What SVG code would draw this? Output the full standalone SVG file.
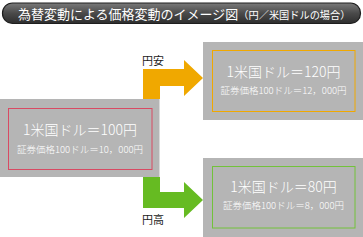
<svg xmlns="http://www.w3.org/2000/svg" width="363" height="237" viewBox="0 0 363 237">
<defs>
<linearGradient id="tg" x1="0" y1="0" x2="0" y2="1">
<stop offset="0" stop-color="#7a7a7a"/>
<stop offset="0.5" stop-color="#4a4a4a"/>
<stop offset="1" stop-color="#2e2e2e"/>
</linearGradient>
<style>
.jp{font-family:"Noto Sans CJK JP","Noto Sans CJK SC",sans-serif;}
.box{fill:#b5b5b5;}
.big{font-size:14px;fill:#ffffff;text-anchor:middle;font-weight:300;}
.small{font-size:9.5px;fill:#ffffff;text-anchor:middle;font-weight:300;}
.lbl{font-size:11px;fill:#222222;}
</style>
</defs>
<g id="title">
<rect x="2.5" y="3" width="358" height="20.5" rx="10" ry="10" fill="url(#tg)" stroke="#1e1e1e" stroke-width="1.2"/>
<text class="jp" x="18" y="19" font-size="13" fill="#ffffff">為替変動による価格変動のイメージ図<tspan font-size="10.2">（円／米国ドルの場合）</tspan></text>
</g>
<g id="connectors">
<path d="M143,99 L143,69 L184,69 L184,60 L203,78 L184,96 L184,86 L160,86 L160,99 Z" fill="#f0a800"/>
<text class="jp lbl" x="142" y="65">円安</text>
<path d="M143,177 L143,208 L184,208 L184,218 L203,200 L184,182 L184,192 L160,192 L160,177 Z" fill="#66bb22"/>
<text class="jp lbl" x="142" y="224">円高</text>
</g>
<g id="current">
<rect class="box" x="0" y="99" width="159.5" height="78"/>
<rect x="8.5" y="108.5" width="143.5" height="61" fill="none" stroke="#d84a63" stroke-width="1"/>
<text class="jp big" x="80" y="135">1米国ドル＝100円</text>
<text class="jp small" x="80" y="153">証券価格100ドル＝10，000円</text>
</g>
<g id="yen-weak">
<rect class="box" x="203" y="42" width="160" height="78"/>
<rect x="212.5" y="50.5" width="142.5" height="61" fill="none" stroke="#f0a800" stroke-width="1"/>
<text class="jp big" x="283.5" y="77">1米国ドル＝120円</text>
<text class="jp small" x="283.5" y="94">証券価格100ドル＝12，000円</text>
</g>
<g id="yen-strong">
<rect class="box" x="203" y="158" width="160" height="79"/>
<rect x="212.5" y="166.5" width="142.5" height="61.5" fill="none" stroke="#72c23a" stroke-width="1"/>
<text class="jp big" x="283.5" y="192">1米国ドル＝80円</text>
<text class="jp small" x="283.5" y="209">証券価格100ドル＝8，000円</text>
</g>
</svg>
